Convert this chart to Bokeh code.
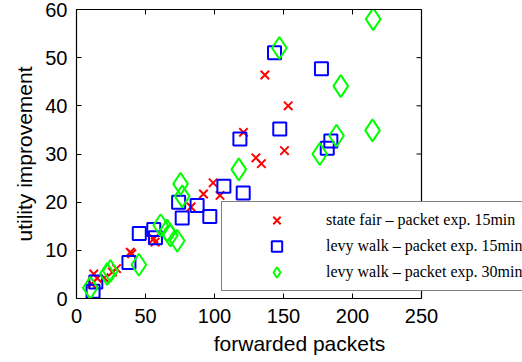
import math
from bokeh.plotting import figure
from bokeh.models import Legend, LegendItem, LinearAxis, FixedTicker, Range1d, Span
from bokeh.embed import file_html
from bokeh.resources import INLINE

# state fair - packet exp. 15min
sf_x = [11, 15, 20, 12.5, 26, 29, 39, 40, 56, 57, 83, 92, 99, 104, 121, 130, 134, 136.5, 150.7, 153.4]
sf_y = [3.0, 4.2, 4.3, 5.1, 5.5, 6.2, 9.6, 9.3, 12.4, 11.7, 19.0, 21.7, 24.0, 21.4, 34.5, 29.2, 28.0, 46.4, 30.7, 40.0]

# levy walk - packet exp. 15min
lw15_x = [12, 14, 38, 45.5, 56, 57.2, 74, 76.6, 87.4, 96.6, 106.8, 118.4, 120.8, 143.5, 147.3, 177.5, 181.7, 184.3]
lw15_y = [1.5, 3.4, 7.5, 13.5, 14.3, 12.6, 20.0, 16.7, 19.3, 17.0, 23.3, 33.1, 21.9, 51.0, 35.2, 47.7, 31.2, 32.7]

# levy walk - packet exp. 30min
lw30_x = [10, 22.2, 24.6, 45.2, 61, 65.7, 68, 73, 75.4, 76.6, 117.6, 147, 176.3, 188.4, 191.5, 214.5, 215]
lw30_y = [2.2, 5.1, 5.7, 7.0, 15.2, 14.1, 13.1, 12.0, 23.8, 21.2, 26.8, 52.0, 30.0, 33.8, 44.1, 34.9, 58.0]

x_ticks = [0, 50, 100, 150, 200, 250]
y_ticks = [0, 10, 20, 30, 40, 50, 60]
labels = ["state fair \u2013 packet exp. 15min",
          "levy walk \u2013 packet exp. 15min",
          "levy walk \u2013 packet exp. 30min"]

# frame runs to the right page edge so the legend may overhang the box
x_max = x_ticks[-1] * 446 / 345
y_max = y_ticks[-1]

p = figure(width=522, height=362, x_range=Range1d(0, x_max), y_range=Range1d(0, y_max),
           output_backend="svg", toolbar_location=None,
           min_border_left=76, min_border_right=0, min_border_top=9, min_border_bottom=64,
           x_axis_label="forwarded packets", y_axis_label="utility improvement")
p.grid.visible = False
p.outline_line_color = None
p.background_fill_color = "white"
p.border_fill_color = "white"

for ax in p.xaxis + p.yaxis:
    ax.major_tick_in = 5
    ax.major_tick_out = 0
    ax.minor_tick_line_color = None
    ax.axis_line_color = "black"
    ax.axis_line_width = 1.2
    ax.major_tick_line_color = "black"
    ax.major_label_text_font = "Liberation Sans"
    ax.major_label_text_font_size = "20px"
    ax.major_label_text_color = "black"
    ax.axis_label_text_font = "Liberation Sans"
    ax.axis_label_text_font_size = "21px"
    ax.axis_label_text_font_style = "normal"
    ax.axis_label_text_color = "black"
p.xaxis.ticker = FixedTicker(ticks=x_ticks)
p.yaxis.ticker = FixedTicker(ticks=y_ticks)
p.xaxis.bounds = (x_ticks[0], x_ticks[-1])
p.xaxis.major_label_standoff = 10
p.yaxis.major_label_standoff = 9
p.xaxis.axis_label_standoff = 6
p.yaxis.axis_label_standoff = 6

top = LinearAxis(ticker=FixedTicker(ticks=x_ticks), bounds=(x_ticks[0], x_ticks[-1]),
                 major_tick_in=5, major_tick_out=0, minor_tick_line_color=None,
                 major_label_overrides={t: "" for t in x_ticks},
                 major_label_standoff=0, axis_line_width=1.2)
p.add_layout(top, "above")

# right-hand box edge with inward ticks
p.add_layout(Span(location=x_ticks[-1], dimension="height", line_color="black", line_width=1.2))
p.ray(x=[x_ticks[-1]] * len(y_ticks), y=y_ticks, length=5, length_units="screen",
      angle=math.pi, line_color="black", line_width=1)

r1 = p.scatter(sf_x, sf_y, marker="x", size=12, line_color="#ff0000", line_width=2)
r2 = p.scatter(lw15_x, lw15_y, marker="square", size=13, line_color="#0000ff",
               fill_color=None, line_width=2)
r3 = p.scatter(lw30_x, lw30_y, marker="diamond", size=22, line_color="#00ff00",
               fill_color=None, line_width=2)

legend = Legend(items=[LegendItem(label=labels[0], renderers=[r1]),
                       LegendItem(label=labels[1], renderers=[r2]),
                       LegendItem(label=labels[2], renderers=[r3])],
                location=(145, 7), margin=0, padding=5, spacing=0,
                glyph_width=99, glyph_height=26, label_height=26,
                label_standoff=0, label_width=230,
                label_text_font="Liberation Serif", label_text_font_size="16px",
                label_text_color="black",
                border_line_color="black", border_line_width=1.2,
                background_fill_color="white", background_fill_alpha=1.0)
p.add_layout(legend)

open("out.html", "w").write(file_html(p, INLINE))
